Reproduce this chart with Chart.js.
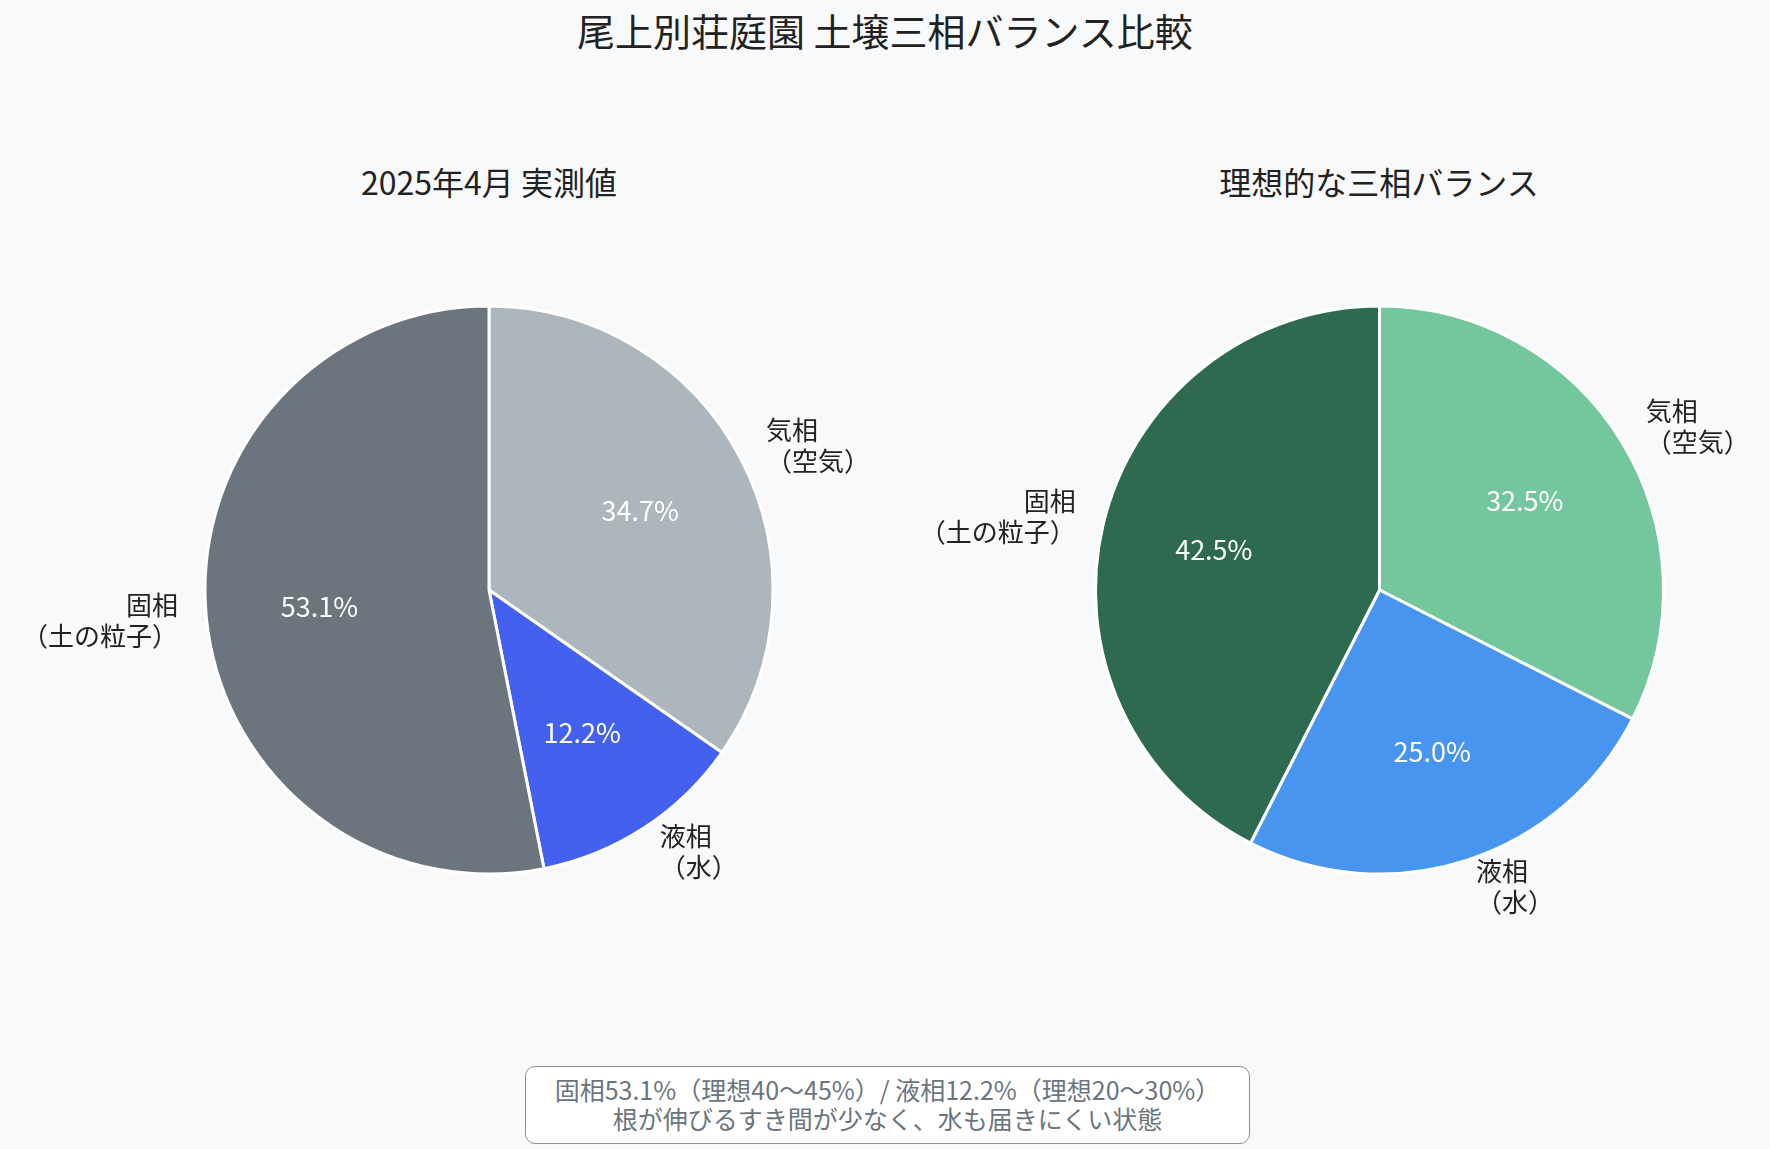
<!DOCTYPE html>
<html lang="ja">
<head>
<meta charset="utf-8">
<script src="https://cdn.jsdelivr.net/npm/chart.js@4.4.1/dist/chart.umd.min.js"></script>
<style>
  html, body { margin: 0; padding: 0; background: #f8f9fa; }
  body { width: 1770px; height: 1149px; position: relative; overflow: hidden;
         font-family: "Noto Sans CJK JP", "Noto Sans", sans-serif; color: #222; }
  canvas { position: absolute; left: 0; top: 0; }
  .title { position: absolute; left: 0; width: 1770px; top: 8px; text-align: center; font-size: 38px; line-height: 44px; }
  .sub { position: absolute; top: 162px; width: 700px; text-align: center; font-size: 32px; line-height: 38px; }
  .note { position: absolute; left: 525px; top: 1066px; width: 725px; height: 78px; box-sizing: border-box;
          border: 1.5px solid #8c9096; border-radius: 10px; background: #fff; color: #6c757d;
          font-size: 25px; line-height: 29px; text-align: center; padding-top: 8px; }
</style>
</head>
<body>
<div class="title">尾上別荘庭園 土壌三相バランス比較</div>
<div class="sub" style="left:139px">2025年4月 実測値</div>
<div class="sub" style="left:1029px">理想的な三相バランス</div>
<canvas id="nowChart" width="1770" height="1149"></canvas>
<canvas id="idealChart" width="1770" height="1149"></canvas>
<div class="note">固相53.1%（理想40〜45%）/ 液相12.2%（理想20〜30%）<br>根が伸びるすき間が少なく、水も届きにくい状態</div>
<script>
const phases = ["固相\n（土の粒子）", "液相\n（水）", "気相\n（空気）"];
const measured = [53.1, 12.2, 34.7];
const ideal = [42.5, 25.0, 32.5];
const measuredColors = ["#6c757d", "#4361ee", "#adb5bd"];
const idealColors = ["#2d6a4f", "#4895ef", "#74c69d"];

// matplotlib draws counter-clockwise from the top, Chart.js clockwise -> reverse
const rev = a => a.slice().reverse();

const pieLabels = {
  id: "pieLabels",
  afterDatasetsDraw(chart) {
    const ctx = chart.ctx;
    const meta = chart.getDatasetMeta(0);
    const labels = chart.data.labels;
    const values = chart.data.datasets[0].data;
    const total = values.reduce((a, b) => a + b, 0);
    ctx.save();
    meta.data.forEach((arc, i) => {
      const mid = (arc.startAngle + arc.endAngle) / 2;
      const r = arc.outerRadius;
      const c = Math.cos(mid), s = Math.sin(mid);

      ctx.font = "27px 'Noto Sans CJK JP'";
      ctx.fillStyle = "#fff";
      ctx.textAlign = "center";
      ctx.textBaseline = "middle";
      ctx.fillText((values[i] / total * 100).toFixed(1) + "%", arc.x + c * r * 0.6, arc.y + s * r * 0.6);

      const lines = labels[i].split("\n");
      const lx = arc.x + c * r * 1.1;
      const ly = arc.y + s * r * 1.1;
      const lh = 31;
      ctx.font = "26px 'Noto Sans CJK JP'";
      ctx.fillStyle = "#222";
      ctx.textAlign = c >= 0 ? "left" : "right";
      lines.forEach((t, k) => {
        ctx.fillText(t, lx, ly + (k - (lines.length - 1) / 2) * lh);
      });
    });
    ctx.restore();
  }
};

function drawPie(id, values, colors, padding) {
  const canvas = document.getElementById(id);
  return new Chart(canvas, {
    type: "pie",
    data: {
      labels: rev(phases),
      datasets: [{
        data: rev(values),
        backgroundColor: rev(colors),
        borderColor: "#ffffff",
        borderWidth: 3,
        radius: 284
      }]
    },
    options: {
      responsive: false,
      animation: false,
      layout: { padding },
      plugins: {
        legend: { display: false },
        tooltip: { enabled: false }
      }
    },
    plugins: [pieLabels]
  });
}

drawPie("nowChart", measured, measuredColors, { left: 0, right: 792, top: 31, bottom: 0 });
drawPie("idealChart", ideal, idealColors, { left: 989, right: 0, top: 31, bottom: 0 });
</script>
</body>
</html>
